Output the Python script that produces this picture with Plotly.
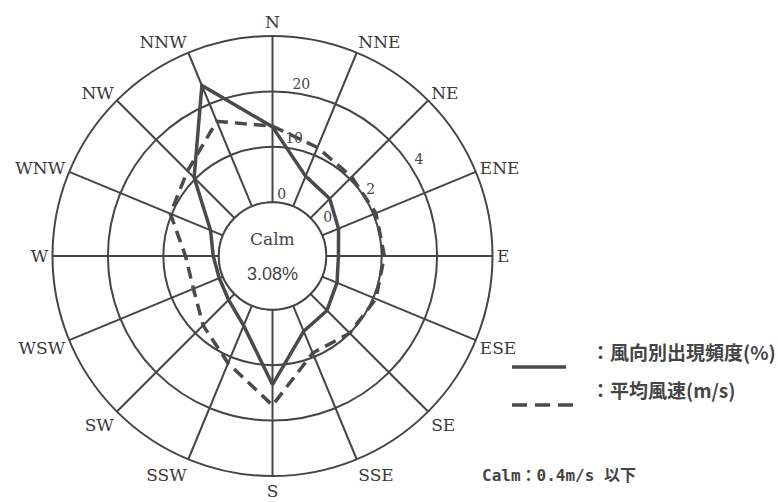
import plotly.graph_objects as go

# ---------------- data ----------------
DIRECTIONS = ["N", "NNE", "NE", "ENE", "E", "ESE", "SE", "SSE",
              "S", "SSW", "SW", "WSW", "W", "WNW", "NW", "NNW"]
FREQ = [13.6, 5.9, 4.9, 3.2, 2.2, 2.9, 4.2, 5.0,
        13.5, 3.9, 1.5, 0.7, 1.0, 2.4, 10.3, 23.6]          # 風向別出現頻度 (%)
SPEED = [2.75, 2.3, 2.1, 2.1, 2.1, 2.1, 2.0, 1.85,
         3.45, 2.25, 1.6, 1.15, 1.2, 2.05, 2.4, 3.32]       # 平均風速 (m/s)
CALM = 3.08
FREQ_TICKS = [0, 10, 20, 30]
FREQ_TICKTEXT = ["0", "10", "20", "30%"]
SPEED_TICKS = [0, 2, 4, 6]
SPEED_TICKTEXT = ["0", "2", "4", "6m/s"]

# ---------------- layout geometry ----------------
W, H = 778, 502
CX, CY, R = 272.5, 256, 220
HOLE = 54 / 221
INK = "#454545"
LINE = "#4a4a4a"

ANGLES = [i * 360 / len(DIRECTIONS) for i in range(len(DIRECTIONS))]
dom_x = [(CX - R) / W, (CX + R) / W]
dom_y = [(H - CY - R) / H, (H - CY + R) / H]


def closed(v):
    return list(v) + [v[0]]


fig = go.Figure()

# calm circle (edge of the hole)
circ_t = list(range(0, 361, 2))
fig.add_trace(go.Scatterpolar(r=[0] * len(circ_t), theta=circ_t, mode="lines",
                              line=dict(color=INK, width=1.6), hoverinfo="skip",
                              showlegend=False, subplot="polar"))

# frequency (solid)
fig.add_trace(go.Scatterpolar(r=closed(FREQ), theta=closed(ANGLES), mode="lines",
                              line=dict(color=LINE, width=3.5),
                              name="風向別出現頻度(%)", showlegend=False,
                              subplot="polar"))

# frequency tick labels
f_off_r = [1.3, 1.7, 1.5, 2.0]
f_off_t = [8.6, 10.5, 9.6, 10.5]
fig.add_trace(go.Scatterpolar(r=[v + o for v, o in zip(FREQ_TICKS, f_off_r)],
                              theta=f_off_t, mode="text", text=FREQ_TICKTEXT,
                              textposition="middle center", cliponaxis=False,
                              textfont=dict(family="DejaVu Serif", size=14, color=INK),
                              hoverinfo="skip", showlegend=False, subplot="polar"))

# speed (dashed)
fig.add_trace(go.Scatterpolar(r=closed(SPEED), theta=closed(ANGLES), mode="lines",
                              line=dict(color=LINE, width=3.5, dash="12px,7px"),
                              name="平均風速(m/s)", showlegend=False,
                              subplot="polar2"))

# speed tick labels
s_off_r = [0.46, 0.32, 0.36, 0.96]
s_off_t = [56, 56.4, 57, 60.7]
fig.add_trace(go.Scatterpolar(r=[v + o for v, o in zip(SPEED_TICKS, s_off_r)],
                              theta=s_off_t, mode="text", text=SPEED_TICKTEXT,
                              textposition="middle center", cliponaxis=False,
                              textfont=dict(family="DejaVu Serif", size=14, color=INK),
                              hoverinfo="skip", showlegend=False, subplot="polar2"))

common_ang = dict(direction="clockwise", rotation=90, thetaunit="degrees")

fig.update_layout(
    width=W, height=H,
    margin=dict(l=0, r=0, t=0, b=0),
    paper_bgcolor="white",
    showlegend=False,
    polar=dict(
        domain=dict(x=dom_x, y=dom_y),
        hole=HOLE,
        bgcolor="white",
        radialaxis=dict(range=[0, 30], tickvals=FREQ_TICKS, showticklabels=False,
                        ticks="", showline=False, gridcolor=INK, gridwidth=1.6),
        angularaxis=dict(tickmode="array", tickvals=ANGLES, ticktext=DIRECTIONS,
                         ticks="", showline=True, linecolor=INK, linewidth=2,
                         gridcolor=INK, gridwidth=1.6,
                         tickfont=dict(family="DejaVu Serif", size=17, color="#3a3a3a"),
                         **common_ang),
    ),
    polar2=dict(
        domain=dict(x=dom_x, y=dom_y),
        hole=HOLE,
        bgcolor="rgba(0,0,0,0)",
        radialaxis=dict(range=[0, 6], visible=False),
        angularaxis=dict(visible=False, **common_ang),
    ),
)

# centre text
fig.add_annotation(x=CX / W, y=(H - (CY - 17)) / H, xref="paper", yref="paper",
                   text="Calm", showarrow=False,
                   font=dict(family="DejaVu Serif", size=17, color=INK))
fig.add_annotation(x=CX / W, y=(H - (CY + 18)) / H, xref="paper", yref="paper",
                   text=f"{CALM:.2f}%", showarrow=False,
                   font=dict(family="Liberation Sans", size=18, color=INK))

# legend samples
fig.add_shape(type="line", xref="paper", yref="paper",
              x0=512 / W, x1=566 / W, y0=(H - 367) / H, y1=(H - 367) / H,
              line=dict(color=LINE, width=3.5))
fig.add_shape(type="line", xref="paper", yref="paper",
              x0=512 / W, x1=576 / W, y0=(H - 405) / H, y1=(H - 405) / H,
              line=dict(color=LINE, width=3.5, dash="15px,8px"))
fig.add_annotation(x=589 / W, y=(H - 367) / H, xref="paper", yref="paper",
                   xanchor="left", text="：風向別出現頻度(%)", showarrow=False,
                   font=dict(family="Noto Sans CJK JP", size=19, color=INK, weight=700))
fig.add_annotation(x=589 / W, y=(H - 405) / H, xref="paper", yref="paper",
                   xanchor="left", text="：平均風速(m/s)", showarrow=False,
                   font=dict(family="Noto Sans CJK JP", size=19, color=INK, weight=700))
fig.add_annotation(x=480 / W, y=(H - 487) / H, xref="paper", yref="paper",
                   xanchor="left", text="Calm：0.4m/s 以下", showarrow=False,
                   font=dict(family="DejaVu Sans Mono, Noto Sans CJK JP", size=16,
                             color=INK, weight=700))

fig.write_html("out.html",
               config={"displayModeBar": False},
               post_script="document.body.style.margin='0px';"
                           "document.body.style.overflow='hidden';")
